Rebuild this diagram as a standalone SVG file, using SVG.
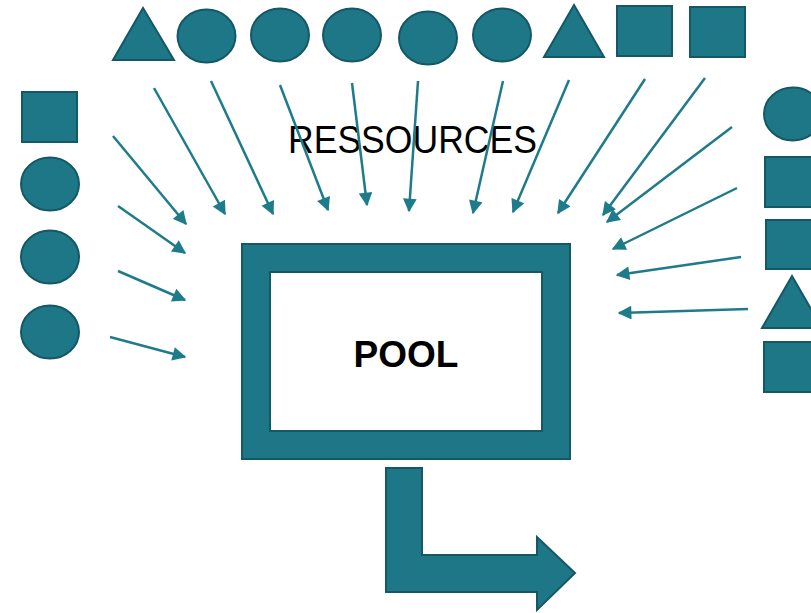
<svg xmlns="http://www.w3.org/2000/svg" width="811" height="613" viewBox="0 0 811 613">
<defs>
<style>
.s{fill:#1e7787;stroke:#145866;stroke-width:2}
.c{stroke:#1e7b8a;stroke-width:2.5;fill:none}
.t{font-family:"Liberation Sans",Arial,sans-serif;fill:#000}
</style>
<marker id="ah" viewBox="0 0 10 10" refX="9" refY="5" markerWidth="6" markerHeight="5.5" markerUnits="strokeWidth" orient="auto">
<path d="M0,0 L10,5 L0,10 Z" fill="#1e7b8a"/>
</marker>
</defs>
<rect width="811" height="613" fill="#fff"/>
<text class="t" x="288" y="153" font-size="38" textLength="249" lengthAdjust="spacingAndGlyphs">RESSOURCES</text>
<g id="top-resources">
<polygon id="t1" class="s" points="143,8 113,60 174,60"/>
<ellipse id="c1" class="s" cx="206.5" cy="36" rx="29" ry="26.5"/>
<ellipse id="c2" class="s" cx="280" cy="35" rx="29" ry="26.5"/>
<ellipse id="c3" class="s" cx="352" cy="35" rx="29" ry="26.5"/>
<ellipse id="c4" class="s" cx="428" cy="38" rx="29" ry="26.5"/>
<ellipse id="c5" class="s" cx="502" cy="35" rx="29" ry="26.5"/>
<polygon id="t2" class="s" points="574,5 544,57 604,57"/>
<rect id="q1" class="s" x="617" y="6" width="55" height="50"/>
<rect id="q2" class="s" x="690" y="7" width="55" height="50"/>
</g>
<g id="left-resources">
<rect id="lq1" class="s" x="22" y="92" width="55" height="50"/>
<ellipse id="lc1" class="s" cx="50" cy="184" rx="29" ry="26.5"/>
<ellipse id="lc2" class="s" cx="50" cy="257" rx="29" ry="26.5"/>
<ellipse id="lc3" class="s" cx="50" cy="332" rx="29" ry="26.5"/>
</g>
<g id="right-resources">
<ellipse id="rc1" class="s" cx="793" cy="114" rx="29" ry="26.5"/>
<rect id="rq1" class="s" x="765" y="157" width="55" height="50"/>
<rect id="rq2" class="s" x="766" y="220" width="55" height="49"/>
<polygon id="rt1" class="s" points="792,276 762,328 822,328"/>
<rect id="rq3" class="s" x="764" y="342" width="55" height="50"/>
</g>
<g id="connectors">
<line class="c" x1="154" y1="88" x2="225" y2="214" marker-end="url(#ah)"/>
<line class="c" x1="211" y1="81" x2="273" y2="214" marker-end="url(#ah)"/>
<line class="c" x1="280" y1="85" x2="328" y2="210" marker-end="url(#ah)"/>
<line class="c" x1="352" y1="83" x2="367" y2="205" marker-end="url(#ah)"/>
<line class="c" x1="418" y1="81" x2="409" y2="211" marker-end="url(#ah)"/>
<line class="c" x1="503" y1="81" x2="473" y2="213" marker-end="url(#ah)"/>
<line class="c" x1="569" y1="80" x2="513" y2="212" marker-end="url(#ah)"/>
<line class="c" x1="645" y1="79" x2="558" y2="213" marker-end="url(#ah)"/>
<line class="c" x1="705" y1="78" x2="603" y2="215" marker-end="url(#ah)"/>
<line class="c" x1="732" y1="127" x2="607" y2="222" marker-end="url(#ah)"/>
<line class="c" x1="737" y1="188" x2="613" y2="249" marker-end="url(#ah)"/>
<line class="c" x1="741" y1="257" x2="617" y2="275" marker-end="url(#ah)"/>
<line class="c" x1="748" y1="309" x2="619" y2="313" marker-end="url(#ah)"/>
<line class="c" x1="113" y1="136" x2="186" y2="224" marker-end="url(#ah)"/>
<line class="c" x1="118" y1="206" x2="185" y2="253" marker-end="url(#ah)"/>
<line class="c" x1="118" y1="271" x2="185" y2="300" marker-end="url(#ah)"/>
<line class="c" x1="110" y1="337" x2="185" y2="357" marker-end="url(#ah)"/>
</g>
<g id="pool">
<path class="s" fill-rule="evenodd" d="M242,244 H570 V459 H242 Z M270,272 V431 H542 V272 Z"/>
<text class="t" x="406" y="367" font-size="37" font-weight="bold" text-anchor="middle">POOL</text>
</g>
<g id="output-arrow">
<path class="s" d="M386,468 L422,468 L422,555 L537,555 L537,537 L575,573 L537,610 L537,592 L386,592 Z"/>
</g>
</svg>
